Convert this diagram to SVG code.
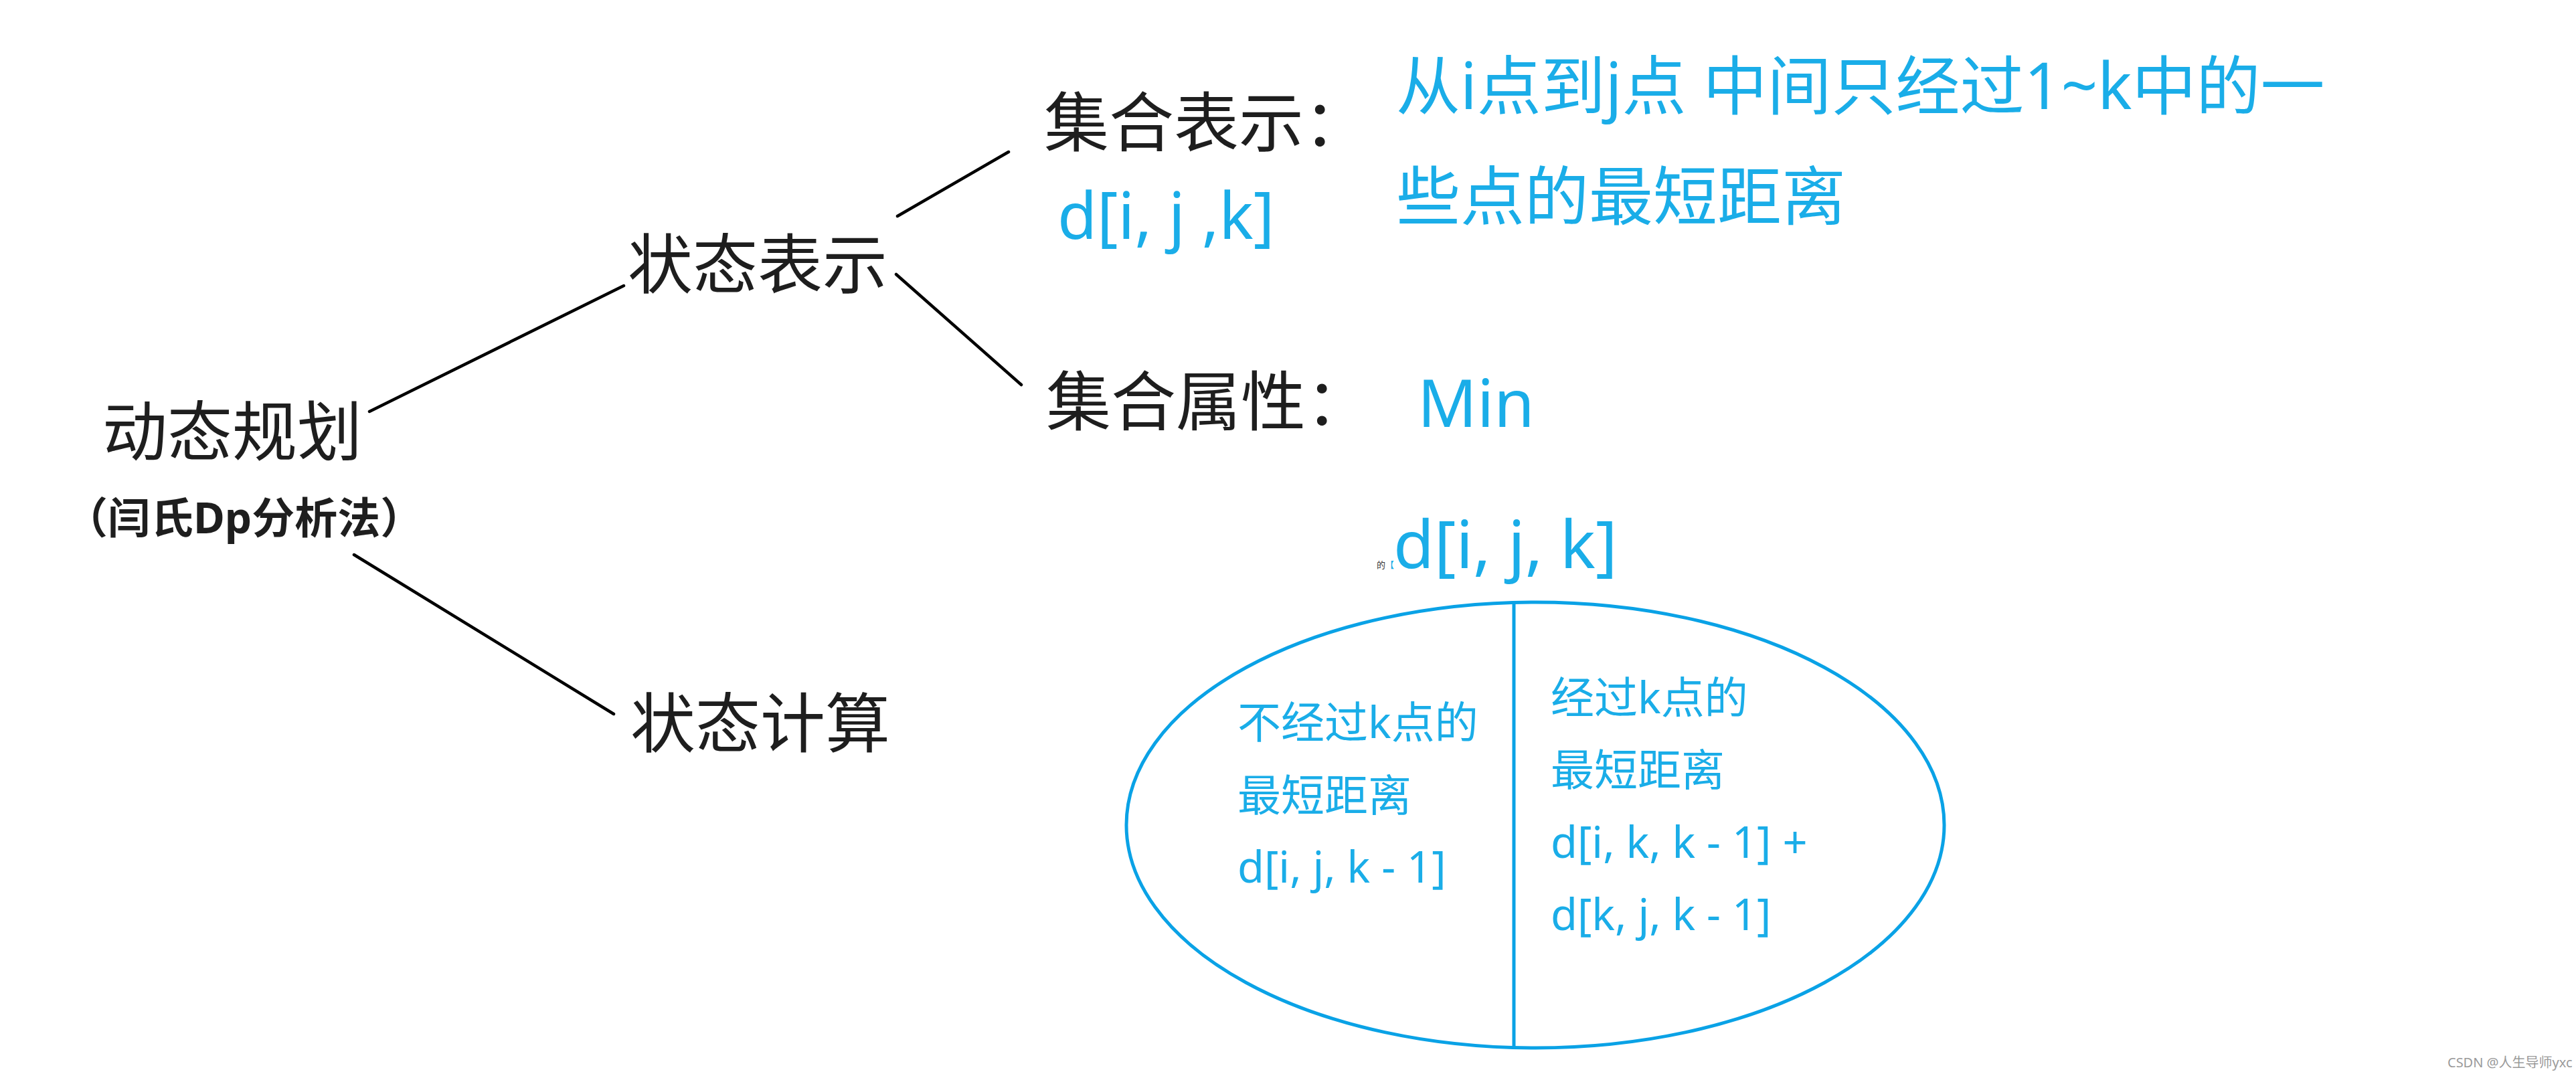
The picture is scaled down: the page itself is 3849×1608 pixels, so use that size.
<svg xmlns="http://www.w3.org/2000/svg" width="3849" height="1608" viewBox="0 0 3849 1608">
  <style>
    .t { font-family: "Noto Sans", "Noto Sans CJK SC", sans-serif; }
    .blk { fill: #1e1e1e; }
    .blu { fill: #1aade8; }
    .big { font-size: 97px; }
    .mid { font-size: 65px; }
    .conn { stroke: #000; stroke-width: 4.5; stroke-linecap: round; fill: none; }
    .shape { stroke: #0aa2e6; stroke-width: 5; fill: none; }
  </style>
  <rect width="3849" height="1608" fill="#ffffff"/>

  <g id="connectors">
    <line class="conn" x1="552" y1="615" x2="932" y2="427"/>
    <line class="conn" x1="529" y1="829" x2="917" y2="1067"/>
    <line class="conn" x1="1341" y1="323" x2="1507" y2="227"/>
    <line class="conn" x1="1339" y1="410" x2="1526" y2="575"/>
  </g>

  <g id="node-dp">
    <text class="t blk big" x="153" y="680">动态规划</text>
    <text class="t blk" x="97" y="797" font-size="64" font-weight="bold">（闫氏Dp分析法）</text>
  </g>

  <g id="node-state-rep">
    <text class="t blk big" x="938" y="430">状态表示</text>
  </g>

  <g id="node-state-calc">
    <text class="t blk big" x="942" y="1116">状态计算</text>
  </g>

  <g id="node-set-rep">
    <text class="t blk big" x="1560" y="218">集合表示：</text>
    <text class="t blu" x="1580" y="357" font-size="96">d[i, j ,k]</text>
    <text class="t blu" x="2086" y="163" font-size="96">从i点到j点 中间只经过1~k中的一</text>
    <text class="t blu" x="2086" y="328" font-size="96">些点的最短距离</text>
  </g>

  <g id="node-set-attr">
    <text class="t blk big" x="1563" y="635">集合属性：</text>
    <text class="t blu" x="2118" y="638" font-size="98">Min</text>
  </g>

  <g id="node-calc">
    <text class="t" x="2057" y="849" font-size="13" fill="#333">的<tspan fill="#1aade8">【</tspan></text>
    <text class="t blu" x="2082" y="849" font-size="99">d[i, j, k]</text>
    <ellipse class="shape" cx="2294" cy="1233" rx="611" ry="333"/>
    <line class="shape" x1="2262" y1="900" x2="2262" y2="1566"/>
    <text class="t blu mid" x="1849" y="1103">不经过k点的</text>
    <text class="t blu mid" x="1849" y="1212">最短距离</text>
    <text class="t blu mid" x="1849" y="1319">d[i, j, k - 1]</text>
    <text class="t blu mid" x="2317" y="1066">经过k点的</text>
    <text class="t blu mid" x="2317" y="1174">最短距离</text>
    <text class="t blu mid" x="2317" y="1282">d[i, k, k - 1] +</text>
    <text class="t blu mid" x="2317" y="1390">d[k, j, k - 1]</text>
  </g>

  <g id="watermark">
    <text class="t" x="3657" y="1595" font-size="20" fill="#9a9a9a">CSDN @人生导师yxc</text>
  </g>
</svg>
